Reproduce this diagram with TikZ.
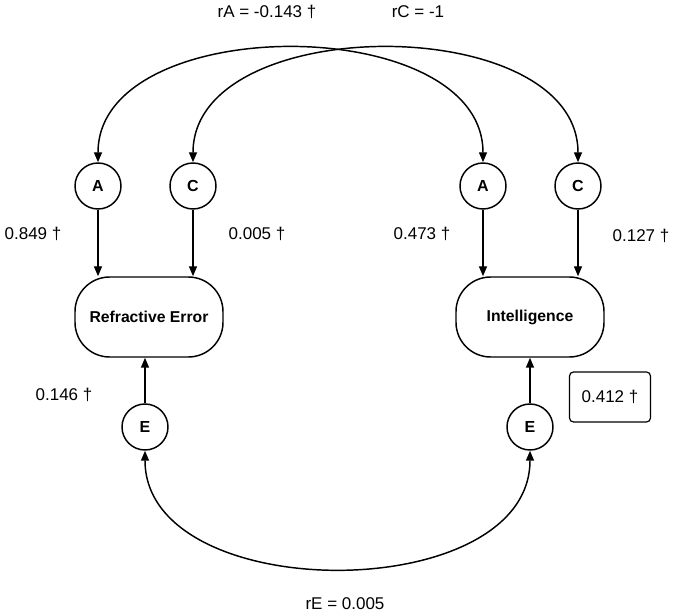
\documentclass[tikz,border=0pt]{standalone}
\usepackage{fontspec}
\setmainfont{Liberation Sans}
\usetikzlibrary{arrows.meta}

\begin{document}
\begin{tikzpicture}[x=0.75pt,y=-0.75pt]
\tikzstyle{main}=[circle, minimum size = 34.5pt, inner sep=0pt, line width=1.1pt, draw=black, font=\fontsize{12}{14}\selectfont\bfseries]
\tikzstyle{trait}=[rectangle, rounded corners=26pt, minimum width=111pt, minimum height=60pt, line width=1.1pt, draw=black, font=\fontsize{11.8}{14}\selectfont\bfseries]
\tikzstyle{connect}=[-{Triangle[length=7.5pt,width=6pt]}, line width=1.1pt]
\tikzstyle{both}=[{Triangle[length=7.5pt,width=6pt]}-{Triangle[length=7.5pt,width=6pt]}, line width=1.1pt]
\tikzstyle{coef}=[font=\fontsize{12.75}{15}\selectfont, inner sep=0pt]

  \useasboundingbox (0,0) rectangle (675,616);

  % latent factors and traits
  \node[main] (a_re) at (98,186) {A};
  \node[main] (c_re) at (193,186) {C};
  \node[main] (a_in) at (483,186) {A};
  \node[main] (c_in) at (578,186) {C};
  \node[trait] (re) at (149,317) {Refractive Error};
  \node[trait] (in) at (530,317) {Intelligence};
  \node[main] (e_re) at (145,427) {E};
  \node[main] (e_in) at (530,427) {E};

  % paths
  \draw[connect] (a_re.south) -- (a_re.south |- re.north);
  \draw[connect] (c_re.south) -- (c_re.south |- re.north);
  \draw[connect] (a_in.south) -- (a_in.south |- in.north);
  \draw[connect] (c_in.south) -- (c_in.south |- in.north);
  \draw[connect] (e_re.north) -- (e_re.north |- re.south);
  \draw[connect] (e_in.north) -- (e_in.north |- in.south);

  % correlations
  \draw[both] (a_re) .. controls +(0,-175) and +(0,-175) .. (a_in);
  \draw[both] (c_re) .. controls +(0,-175) and +(0,-175) .. (c_in);
  \draw[both] (e_re) .. controls +(0,180) and +(0,180) .. (e_in);

  % estimates
  \node[coef] (r_a) at (267,12) {rA = -0.143 †};
  \node[coef] (r_c) at (418,12) {rC = -1};
  \node[coef] (p_a_re) at (33,234) {0.849 †};
  \node[coef] (p_c_re) at (257,234) {0.005 †};
  \node[coef] (p_a_in) at (422,234) {0.473 †};
  \node[coef] (p_c_in) at (641,236) {0.127 †};
  \node[coef] (p_e_re) at (64,395) {0.146 †};
  \node[coef, draw, rounded corners=3pt, line width=0.9pt, minimum width=60.75pt, minimum height=37.5pt] (p_e_in) at (610,397) {0.412 †};
  \node[coef] (r_e) at (345,604) {rE = 0.005};

\end{tikzpicture}
\end{document}
